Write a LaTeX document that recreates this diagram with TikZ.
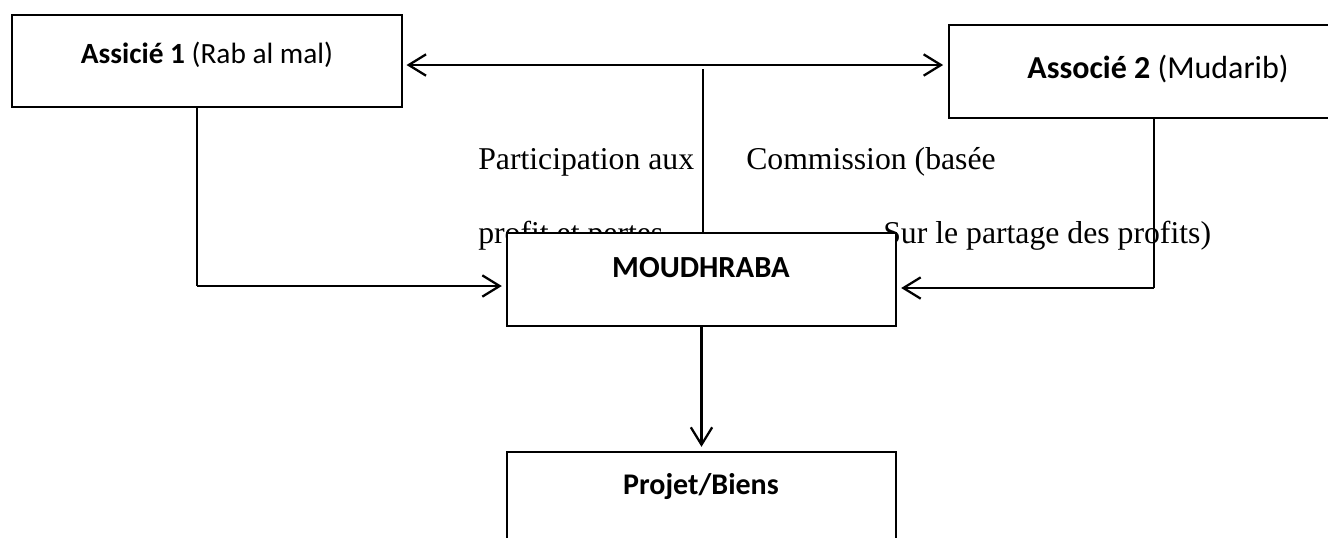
\documentclass[tikz,border=0pt]{standalone}
\usepackage{fontspec}
\setmainfont{Liberation Serif}
\newfontfamily\calib{Carlito}
\usetikzlibrary{arrows.meta,fit}
\begin{document}
\begin{tikzpicture}[x=0.75pt,y=-0.75pt,
  box/.style={draw,line width=1.8pt,fill=white,inner sep=0pt,rectangle},
  blabel/.style={font=\calib\fontsize{22}{26}\selectfont,inner sep=0pt},
  tlabel/.style={font=\fontsize{23.8}{28}\selectfont,inner sep=0pt,anchor=base west},
  arr/.style={line width=1.7pt,-{Straight Barb[length=13pt,width=16pt,line width=1.7pt]},shorten >=3pt},
  thinline/.style={line width=0.8pt}]
\useasboundingbox (0,0) rectangle (1328,537);
\clip (0,0) rectangle (1328,537);
% free texts (behind the boxes)
\node[tlabel] (p1) at (478,169) {Participation aux};
\node[tlabel] (p2) at (478,243) {profit et pertes};
\node[tlabel] (c1) at (746,169) {Commission (basée};
\node[tlabel] (c2) at (883,243) {Sur le partage des profits)};
% boxes
\node[box,fit={(12,15)(402,107)}] (b1) {};
\node[box,fit={(949,25)(1375,118)}] (b2) {};
\node[box,fit={(507,233)(896,326)}] (m) {};
\node[box,fit={(507,452)(896,600)}] (pj) {};
% box texts
\node[blabel] (t1) at (207,55) {\textbf{Assicié 1} (Rab al mal)};
\node[blabel,font=\calib\fontsize{24}{28}\selectfont] (t2) at (1158,69) {\textbf{Associé 2} (Mudarib)};
\node[blabel,font=\calib\fontsize{23}{28}\selectfont] (t3) at (701,268) {\textbf{MOUDHRABA}};
\node[blabel,font=\calib\fontsize{22.5}{28}\selectfont] (t4) at (701,486) {\textbf{Projet/Biens}};
% connectors
\coordinate (c) at (703,65);
\coordinate (cv) at (703,69);
\draw[line width=1.7pt,{Straight Barb[length=13pt,width=16pt,line width=1.7pt]}-{Straight Barb[length=13pt,width=16pt,line width=1.7pt]},shorten <=2.5pt,shorten >=3.5pt] (c -| b1.east) -- (c -| b2.west);
\draw[thinline] (cv) -- (cv |- m.north);
\coordinate (lx) at (197,286);
\draw[thinline] (lx |- b1.south) -- (lx);
\draw[arr] (lx) -- (lx -| m.west);
\coordinate (rx) at (1154,288);
\draw[thinline] (rx |- b2.south) -- (rx);
\draw[arr] (rx) -- (rx -| m.east);
\draw[arr] (m.south) -- (pj.north);
\end{tikzpicture}
\end{document}
